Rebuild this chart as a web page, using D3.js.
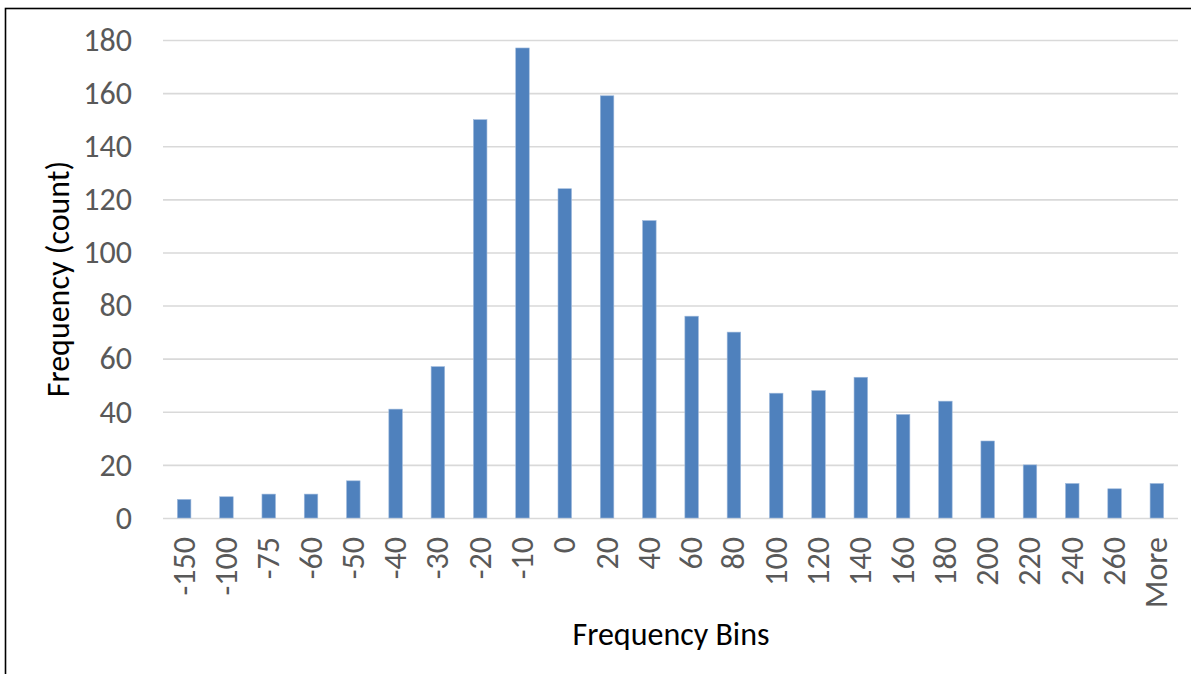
<!DOCTYPE html>
<html>
<head>
<meta charset="utf-8">
<script src="https://cdn.jsdelivr.net/npm/d3@7"></script>
<style>
  html, body { margin: 0; padding: 0; background: #fff; }
  svg { display: block; }
  text { font-family: Carlito, Lato, "Open Sans", sans-serif; }
</style>
</head>
<body>
<svg id="chart" width="1191" height="674"></svg>
<script>
// Histogram bins and their counts
const bins = ["-150", "-100", "-75", "-60", "-50", "-40", "-30", "-20", "-10", "0",
              "20", "40", "60", "80", "100", "120", "140", "160", "180", "200",
              "220", "240", "260", "More"];
const counts = [7, 8, 9, 9, 14, 41, 57, 150, 177, 124,
                159, 112, 76, 70, 47, 48, 53, 39, 44, 29,
                20, 13, 11, 13];
const yTicks = [0, 20, 40, 60, 80, 100, 120, 140, 160, 180];
const xTitle = "Frequency Bins";
const yTitle = "Frequency (count)";

const svg = d3.select("#chart");
const W = 1191, H = 674;
const plot = { left: 163, right: 1178, top: 40, bottom: 518 };
const fontSize = "32px";

// Outer frame (runs past the right and bottom edges)
svg.append("rect")
  .attr("x", 5.5).attr("y", 8.5)
  .attr("width", W + 20).attr("height", H + 20)
  .attr("fill", "none").attr("stroke", "#000").attr("stroke-width", 1.6);

const x = d3.scaleBand()
  .domain(bins)
  .range([plot.left, plot.right])
  .paddingInner(0.68)
  .paddingOuter(0.34);

const y = d3.scaleLinear()
  .domain([0, 180])
  .range([plot.bottom, plot.top]);

// Horizontal gridlines and y tick labels
const yAxis = d3.axisLeft(y)
  .tickValues(yTicks)
  .tickSize(-(plot.right - plot.left))
  .tickPadding(31)
  .tickFormat(d3.format("d"));

const gy = svg.append("g")
  .attr("transform", `translate(${plot.left},0)`)
  .call(yAxis);
gy.select(".domain").remove();
gy.selectAll(".tick line")
  .attr("stroke", "#d9d9d9").attr("stroke-width", 1.6);
gy.selectAll(".tick text")
  .attr("fill", "#595959")
  .style("font-size", fontSize);

// Bars
svg.append("g")
  .selectAll("rect")
  .data(bins.map((b, i) => ({ bin: b, count: counts[i] })))
  .join("rect")
  .attr("x", d => x(d.bin))
  .attr("y", d => y(d.count))
  .attr("width", x.bandwidth())
  .attr("height", d => y(0) - y(d.count))
  .attr("fill", "#4f81bd")
  .attr("stroke", "#9fbadc")
  .attr("stroke-width", 0.6);

// Category axis with rotated labels
const xAxis = d3.axisBottom(x).tickSize(0).tickPadding(0);
const gx = svg.append("g")
  .attr("transform", `translate(0,${plot.bottom})`)
  .call(xAxis);
gx.select(".domain").remove();
gx.selectAll(".tick text")
  .attr("fill", "#595959")
  .style("font-size", fontSize)
  .attr("text-anchor", "end")
  .attr("dy", null)
  .attr("transform", "translate(0,19) rotate(-90)")
  .attr("x", 0)
  .attr("y", 0)
  .attr("dominant-baseline", "central");

// Axis titles
svg.append("text")
  .attr("x", 671)
  .attr("y", 645)
  .attr("text-anchor", "middle")
  .attr("fill", "#000")
  .style("font-size", fontSize)
  .text(xTitle);

svg.append("text")
  .attr("transform", `translate(58,${(plot.top + plot.bottom) / 2}) rotate(-90)`)
  .attr("text-anchor", "middle")
  .attr("dominant-baseline", "central")
  .attr("fill", "#000")
  .style("font-size", fontSize)
  .text(yTitle);
</script>
</body>
</html>
